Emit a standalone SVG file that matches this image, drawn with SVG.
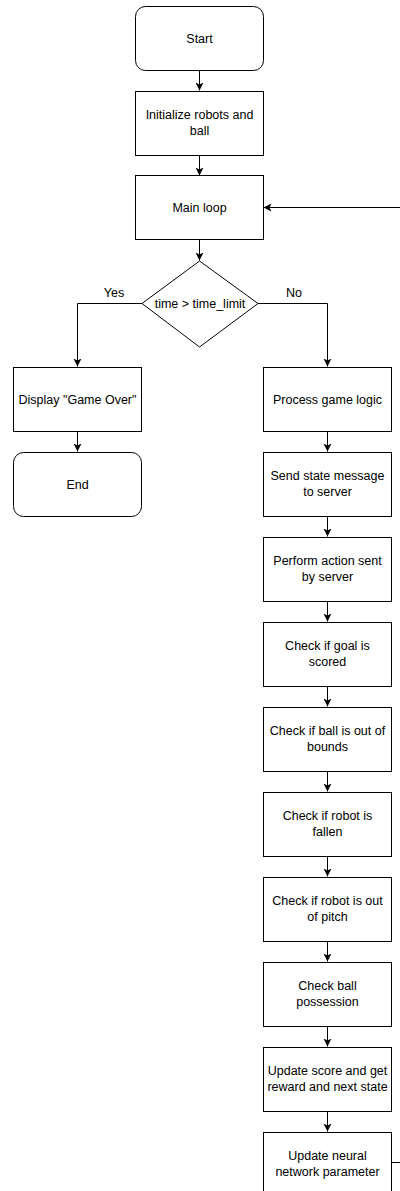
<svg xmlns="http://www.w3.org/2000/svg" width="400" height="1191" viewBox="0 0 400 1191">
<style>
.box{fill:#fff;stroke:#000;stroke-width:1}
.t{font-family:"Liberation Sans",Arial,sans-serif;font-size:12.5px;fill:#000;text-anchor:middle}
.c{fill:none;stroke:#000;stroke-width:1}
</style>
<defs>
<marker id="ah" markerUnits="userSpaceOnUse" markerWidth="10" markerHeight="10" refX="8" refY="4" orient="auto">
<path d="M0,0 L8,4 L0,8 L2,4 z" fill="#000"/>
</marker>
</defs>
<rect width="400" height="1191" fill="#fff"/>
<g id="connectors">
<path class="c" d="M199.5,70.5 V90.5" marker-end="url(#ah)"/>
<path class="c" d="M199.5,155.5 V175.5" marker-end="url(#ah)"/>
<path class="c" d="M199.5,239.5 V260.5" marker-end="url(#ah)"/>
<path class="c" d="M142,303.5 H77.5 V366.5" marker-end="url(#ah)"/>
<path class="c" d="M258,303.5 H327.5 V366.5" marker-end="url(#ah)"/>
<path class="c" d="M77.5,431.5 V451.5" marker-end="url(#ah)"/>
<path class="c" d="M327.5,431.5 V451.5" marker-end="url(#ah)"/>
<path class="c" d="M327.5,516.5 V536.5" marker-end="url(#ah)"/>
<path class="c" d="M327.5,601.5 V621.5" marker-end="url(#ah)"/>
<path class="c" d="M327.5,686.5 V706.5" marker-end="url(#ah)"/>
<path class="c" d="M327.5,771.5 V791.5" marker-end="url(#ah)"/>
<path class="c" d="M327.5,856.5 V876.5" marker-end="url(#ah)"/>
<path class="c" d="M327.5,941.5 V961.5" marker-end="url(#ah)"/>
<path class="c" d="M327.5,1026.5 V1046.5" marker-end="url(#ah)"/>
<path class="c" d="M327.5,1111.5 V1131.5" marker-end="url(#ah)"/>
<path class="c" d="M390.5,1162.5 H412 V207.5 H263.5" marker-end="url(#ah)"/>
<text class="t" x="114" y="297">Yes</text>
<text class="t" x="294" y="297">No</text>
</g>
<g id="start"><rect class="box" x="135.5" y="6.5" width="128" height="64" rx="10"/><text class="t" x="199.5" y="42.5">Start</text></g>
<g id="init"><rect class="box" x="135.5" y="91.5" width="128" height="64"/><text class="t" x="199.5" y="119">Initialize robots and</text><text class="t" x="199.5" y="135">ball</text></g>
<g id="mainloop"><rect class="box" x="135.5" y="175.5" width="128" height="64"/><text class="t" x="199.5" y="212">Main loop</text></g>
<g id="decision"><polygon class="box" points="199.5,261 258,303.5 199.5,347 142,303.5"/><text class="t" x="200" y="308">time &gt; time_limit</text></g>
<g id="gameover"><rect class="box" x="13.5" y="367.5" width="128" height="64"/><text class="t" x="77.5" y="404">Display "Game Over"</text></g>
<g id="end"><rect class="box" x="13.5" y="452.5" width="128" height="64" rx="10"/><text class="t" x="77.5" y="489">End</text></g>
<g id="process"><rect class="box" x="263.5" y="367.5" width="128" height="64"/><text class="t" x="327.5" y="404">Process game logic</text></g>
<g id="send"><rect class="box" x="263.5" y="452.5" width="128" height="64"/><text class="t" x="327.5" y="480">Send state message</text><text class="t" x="327.5" y="496">to server</text></g>
<g id="perform"><rect class="box" x="263.5" y="537.5" width="128" height="64"/><text class="t" x="327.5" y="565">Perform action sent</text><text class="t" x="327.5" y="581">by server</text></g>
<g id="goal"><rect class="box" x="263.5" y="622.5" width="128" height="64"/><text class="t" x="327.5" y="650">Check if goal is</text><text class="t" x="327.5" y="666">scored</text></g>
<g id="bounds"><rect class="box" x="263.5" y="707.5" width="128" height="64"/><text class="t" x="327.5" y="735">Check if ball is out of</text><text class="t" x="327.5" y="751">bounds</text></g>
<g id="fallen"><rect class="box" x="263.5" y="792.5" width="128" height="64"/><text class="t" x="327.5" y="820">Check if robot is</text><text class="t" x="327.5" y="836">fallen</text></g>
<g id="pitch"><rect class="box" x="263.5" y="877.5" width="128" height="64"/><text class="t" x="327.5" y="905">Check if robot is out</text><text class="t" x="327.5" y="921">of pitch</text></g>
<g id="possession"><rect class="box" x="263.5" y="962.5" width="128" height="64"/><text class="t" x="327.5" y="990">Check ball</text><text class="t" x="327.5" y="1006">possession</text></g>
<g id="score"><rect class="box" x="263.5" y="1047.5" width="128" height="64"/><text class="t" x="327.5" y="1075">Update score and get</text><text class="t" x="327.5" y="1091">reward and next state</text></g>
<g id="neural"><rect class="box" x="263.5" y="1132.5" width="128" height="64"/><text class="t" x="327.5" y="1160">Update neural</text><text class="t" x="327.5" y="1176">network parameter</text></g>
</svg>
